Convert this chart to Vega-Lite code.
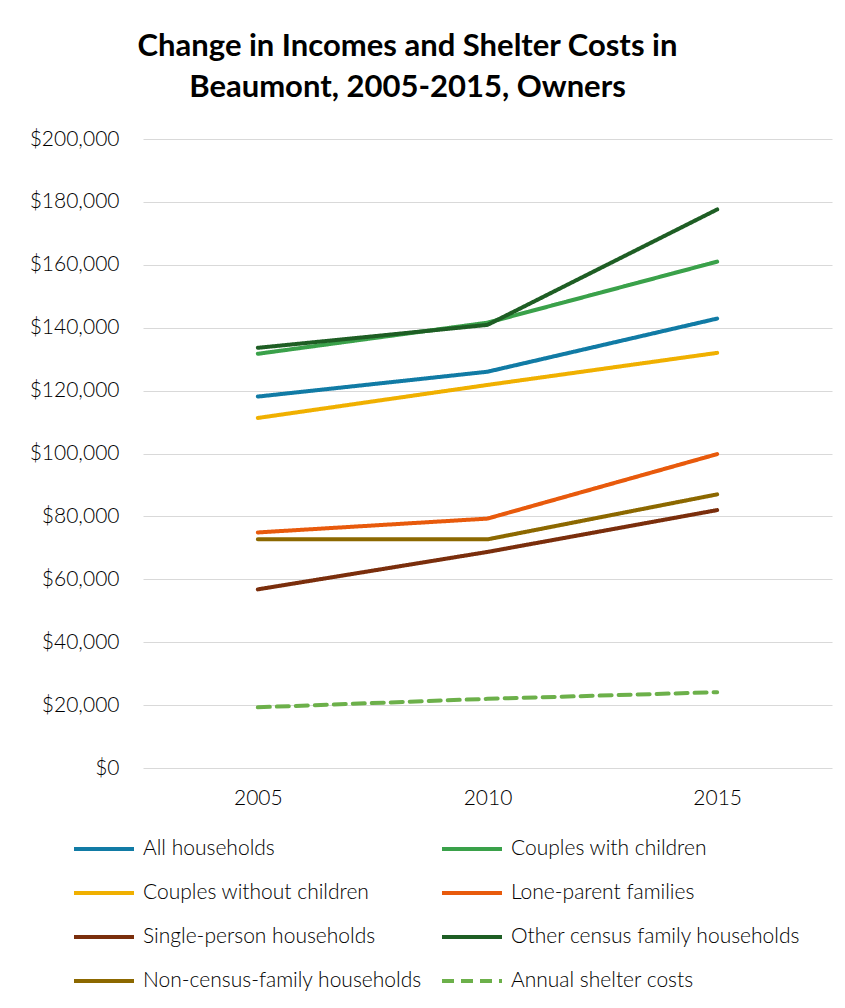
{
  "$schema": "https://vega.github.io/schema/vega-lite/v6.json",
  "width": 689,
  "height": 629,
  "autosize": {"type": "none"},
  "padding": {"left": 143, "top": 139, "right": 13, "bottom": 240},
  "background": "white",
  "title": {
    "text": ["Change in Incomes and Shelter Costs in", "Beaumont, 2005-2015, Owners"],
    "font": "Lato",
    "fontSize": 31,
    "fontWeight": "bold",
    "color": "#000000",
    "lineHeight": 41,
    "anchor": "middle",
    "dx": -80,
    "offset": 24
  },
  "data": {
    "values": [
      {"year": "2005", "series": "All households", "value": 118100},
      {"year": "2010", "series": "All households", "value": 126000},
      {"year": "2015", "series": "All households", "value": 142900},
      {"year": "2005", "series": "Couples with children", "value": 131700},
      {"year": "2010", "series": "Couples with children", "value": 141600},
      {"year": "2015", "series": "Couples with children", "value": 161000},
      {"year": "2005", "series": "Couples without children", "value": 111300},
      {"year": "2010", "series": "Couples without children", "value": 121800},
      {"year": "2015", "series": "Couples without children", "value": 132000},
      {"year": "2005", "series": "Lone-parent families", "value": 74900},
      {"year": "2010", "series": "Lone-parent families", "value": 79300},
      {"year": "2015", "series": "Lone-parent families", "value": 99800},
      {"year": "2005", "series": "Single-person households", "value": 56800},
      {"year": "2010", "series": "Single-person households", "value": 68700},
      {"year": "2015", "series": "Single-person households", "value": 82000},
      {"year": "2005", "series": "Other census family households", "value": 133600},
      {"year": "2010", "series": "Other census family households", "value": 140900},
      {"year": "2015", "series": "Other census family households", "value": 177600},
      {"year": "2005", "series": "Non-census-family households", "value": 72700},
      {"year": "2010", "series": "Non-census-family households", "value": 72700},
      {"year": "2015", "series": "Non-census-family households", "value": 87000},
      {"year": "2005", "series": "Annual shelter costs", "value": 19300},
      {"year": "2010", "series": "Annual shelter costs", "value": 22000},
      {"year": "2015", "series": "Annual shelter costs", "value": 24100}
    ]
  },
  "mark": {"type": "line", "strokeWidth": 4, "strokeCap": "round"},
  "encoding": {
    "x": {
      "field": "year",
      "type": "ordinal",
      "scale": {"type": "point", "padding": 0.5},
      "axis": {
        "title": null,
        "labelAngle": 0,
        "domain": false,
        "ticks": false,
        "grid": false,
        "labelFont": "Lato",
        "labelFontWeight": 300,
        "labelFontSize": 21,
        "labelColor": "#000000",
        "labelPadding": 19
      }
    },
    "y": {
      "field": "value",
      "type": "quantitative",
      "scale": {"domain": [0, 200000]},
      "axis": {
        "title": null,
        "format": "$,.0f",
        "values": [0, 20000, 40000, 60000, 80000, 100000, 120000, 140000, 160000, 180000, 200000],
        "labelOverlap": false,
        "domain": false,
        "ticks": false,
        "gridColor": "#d9d9d9",
        "gridWidth": 1.2,
        "labelFont": "Lato",
        "labelFontWeight": 300,
        "labelFontSize": 21,
        "labelColor": "#000000",
        "labelPadding": 24
      }
    },
    "color": {
      "field": "series",
      "type": "nominal",
      "sort": null,
      "scale": {
        "domain": ["All households", "Couples with children", "Couples without children", "Lone-parent families", "Single-person households", "Other census family households", "Non-census-family households", "Annual shelter costs"],
        "range": ["#117ba5", "#3aa14a", "#f0b000", "#e85a0c", "#7a2e0c", "#1e5e24", "#8c6800", "#6cb04a"]
      },
      "legend": {
        "title": null,
        "orient": "none",
        "legendX": -71,
        "legendY": 678,
        "columns": 2,
        "direction": "horizontal",
        "gridAlign": "all",
        "symbolType": "stroke",
        "symbolSize": 3600,
        "symbolStrokeWidth": 4,
        "labelFont": "Lato",
        "labelFontWeight": 300,
        "labelFontSize": 21,
        "labelColor": "#000000",
        "labelOffset": 7,
        "labelLimit": 400,
        "rowPadding": 2,
        "columnPadding": 1
      }
    },
    "strokeDash": {
      "field": "series",
      "type": "nominal",
      "scale": {
        "domain": ["All households", "Couples with children", "Couples without children", "Lone-parent families", "Single-person households", "Other census family households", "Non-census-family households", "Annual shelter costs"],
        "range": [[1, 0], [1, 0], [1, 0], [1, 0], [1, 0], [1, 0], [1, 0], [12, 7]]
      },
      "legend": null
    }
  },
  "config": {
    "view": {"stroke": null}
  }
}
